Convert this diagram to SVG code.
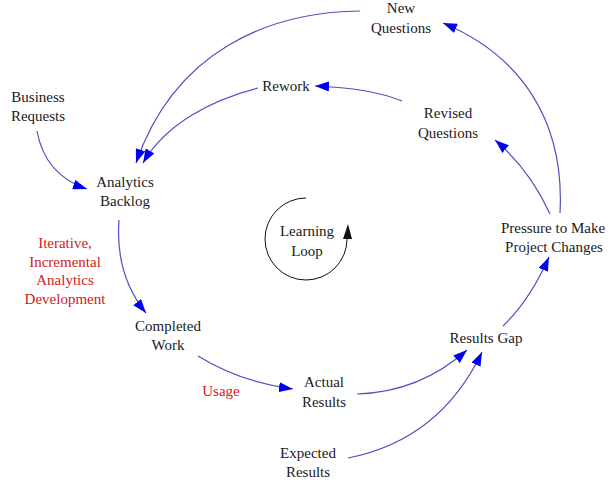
<svg xmlns="http://www.w3.org/2000/svg" width="610" height="480" viewBox="0 0 610 480">
  <defs>
    <marker id="arrow" viewBox="0 0 14 10" refX="14" refY="5" markerWidth="14" markerHeight="10" markerUnits="userSpaceOnUse" orient="auto">
      <path d="M0,0 L14,5 L0,10 Z" fill="#0000ee"/>
    </marker>
  </defs>
  <rect width="610" height="480" fill="#fff"/>

  <!-- causal links: shared stroke settings on the group -->
  <g id="connectors" fill="none" stroke="#5050c0" stroke-width="1.2" marker-end="url(#arrow)">
    <path d="M360,11 C270,12 175,50 136,163"/>
    <path d="M258,88 C210,100 165,125 143,163"/>
    <path d="M402,101 Q370,88 315,86"/>
    <path d="M560,213 C565,120 520,55 443,23"/>
    <path d="M550,214 Q530,170 495,140"/>
    <path d="M37,131 Q45,175 87,189"/>
    <path d="M119,220 Q115,275 146,313"/>
    <path d="M198,356 Q240,382 293,389"/>
    <path d="M357,394 Q420,392 467,350"/>
    <path d="M348,458 Q440,440 482,352"/>
    <path d="M503,326 Q530,300 549,257"/>
  </g>

  <!-- labels: shared font settings on the group -->
  <g font-family="Liberation Serif" font-size="15" fill="#1a1a1a" text-anchor="middle">
    <g id="learning-loop">
      <path d="M306,198 A41,41 0 1,0 347,239" fill="none" stroke="#111" stroke-width="1"/>
      <polygon points="348,224 343,239 352,239" fill="#111"/>
      <text x="307" y="236">Learning</text>
      <text x="307" y="256">Loop</text>
    </g>

    <g id="new-questions">
      <text x="401" y="13">New</text>
      <text x="401" y="33">Questions</text>
    </g>
    <g id="rework">
      <text x="286" y="91">Rework</text>
    </g>
    <g id="revised-questions">
      <text x="448" y="118">Revised</text>
      <text x="448" y="138">Questions</text>
    </g>
    <g id="business-requests">
      <text x="38" y="102">Business</text>
      <text x="38" y="121">Requests</text>
    </g>
    <g id="analytics-backlog">
      <text x="125" y="187">Analytics</text>
      <text x="125" y="206">Backlog</text>
    </g>
    <g id="development-label" fill="#d42020">
      <text x="65" y="248">Iterative,</text>
      <text x="65" y="267">Incremental</text>
      <text x="65" y="285">Analytics</text>
      <text x="65" y="304">Development</text>
    </g>
    <g id="completed-work">
      <text x="168" y="331">Completed</text>
      <text x="168" y="350">Work</text>
    </g>
    <g id="usage-label" fill="#d42020">
      <text x="221" y="396">Usage</text>
    </g>
    <g id="actual-results">
      <text x="324" y="387">Actual</text>
      <text x="324" y="407">Results</text>
    </g>
    <g id="expected-results">
      <text x="308" y="458">Expected</text>
      <text x="308" y="477">Results</text>
    </g>
    <g id="results-gap">
      <text x="486" y="343">Results Gap</text>
    </g>
    <g id="pressure">
      <text x="553" y="233">Pressure to Make</text>
      <text x="554" y="252">Project Changes</text>
    </g>
  </g>
</svg>
